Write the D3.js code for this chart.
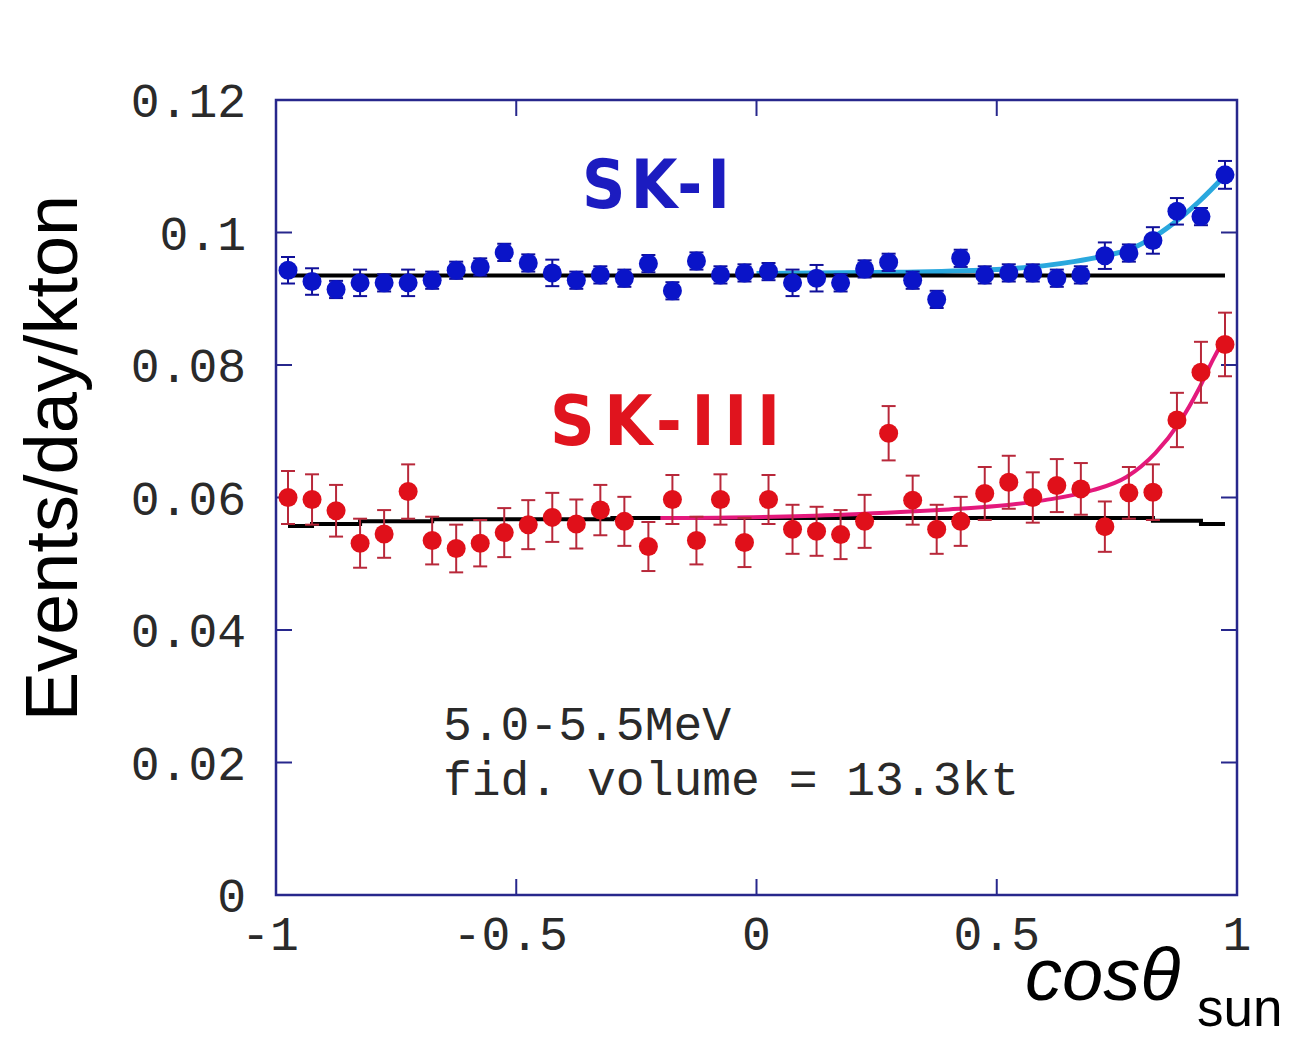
<!DOCTYPE html>
<html>
<head>
<meta charset="utf-8">
<script src="https://cdn.jsdelivr.net/npm/d3@7"></script>
<style>
  body { margin: 0; background: #fff; }
  svg { display: block; }
</style>
</head>
<body>
<div id="chart"></div>
<script>
/* SK-I / SK-III solar angle distribution, 5.0-5.5 MeV bin.
   Points read off the original figure; fits stored as sampled points. */
var cosBins = [-0.975, -0.925, -0.875, -0.825, -0.775, -0.725, -0.675, -0.625,
  -0.575, -0.525, -0.475, -0.425, -0.375, -0.325, -0.275, -0.225, -0.175, -0.125,
  -0.075, -0.025, 0.025, 0.075, 0.125, 0.175, 0.225, 0.275, 0.325, 0.375, 0.425,
  0.475, 0.525, 0.575, 0.625, 0.675, 0.725, 0.775, 0.825, 0.875, 0.925, 0.975];

var skI = [0.0943, 0.0926, 0.0914, 0.0924, 0.0924, 0.0924, 0.0928, 0.0943,
  0.0948, 0.0970, 0.0954, 0.0939, 0.0928, 0.0936, 0.0931, 0.0953, 0.0912, 0.0957,
  0.0936, 0.0939, 0.0941, 0.0924, 0.0931, 0.0924, 0.0945, 0.0955, 0.0928, 0.0899,
  0.0961, 0.0936, 0.0939, 0.0939, 0.0931, 0.0936, 0.0965, 0.0969, 0.0988, 0.1032,
  0.1024, 0.1087];
var skIErr = [0.0020, 0.0020, 0.0013, 0.0020, 0.0013, 0.0020, 0.0013, 0.0013,
  0.0013, 0.0013, 0.0013, 0.0020, 0.0013, 0.0013, 0.0013, 0.0013, 0.0013, 0.0013,
  0.0013, 0.0013, 0.0013, 0.0020, 0.0020, 0.0013, 0.0013, 0.0013, 0.0013, 0.0013,
  0.0013, 0.0013, 0.0013, 0.0013, 0.0013, 0.0013, 0.0020, 0.0013, 0.0020, 0.0020,
  0.0013, 0.0021];

var skIII = [0.0600, 0.0597, 0.0580, 0.0531, 0.0545, 0.0609, 0.0535, 0.0523,
  0.0531, 0.0547, 0.0559, 0.0570, 0.0560, 0.0581, 0.0564, 0.0526, 0.0597, 0.0535,
  0.0597, 0.0532, 0.0597, 0.0552, 0.0549, 0.0544, 0.0564, 0.0697, 0.0596, 0.0552,
  0.0564, 0.0606, 0.0623, 0.0600, 0.0618, 0.0613, 0.0556, 0.0607, 0.0608, 0.0717,
  0.0789, 0.0831];
var skIIIErr = [0.0040, 0.0038, 0.0039, 0.0037, 0.0036, 0.0041, 0.0036, 0.0036,
  0.0035, 0.0037, 0.0037, 0.0037, 0.0037, 0.0038, 0.0037, 0.0037, 0.0037, 0.0036,
  0.0038, 0.0037, 0.0037, 0.0037, 0.0037, 0.0037, 0.0040, 0.0041, 0.0037, 0.0037,
  0.0037, 0.0040, 0.0040, 0.0038, 0.0040, 0.0039, 0.0038, 0.0039, 0.0042, 0.0041,
  0.0046, 0.0048];

// flat (no-peak) expectations, black
var flatI = [[-0.975, 0.0935], [0.975, 0.0935]];
var flatIII = [[-0.975, 0.0557], [-0.925, 0.0560], [-0.825, 0.0564], [-0.675, 0.0567],
  [-0.3, 0.0569], [0.825, 0.0565], [0.925, 0.0560], [0.975, 0.0560]];

// fitted curves (signal + background), sampled from the figure
var fitI = [[0.0, 0.0938], [0.3, 0.0940], [0.5, 0.0944], [0.6, 0.0950], [0.66, 0.0956],
  [0.72, 0.0964], [0.77, 0.0973], [0.82, 0.0990], [0.87, 0.1015], [0.92, 0.1046],
  [0.975, 0.1086]];
var fitIII = [[-0.2, 0.0569], [0.1, 0.0572], [0.3, 0.0578], [0.4, 0.0582], [0.5, 0.0587],
  [0.6, 0.0596], [0.7, 0.0611], [0.77, 0.0631], [0.83, 0.0667], [0.88, 0.0713],
  [0.92, 0.0763], [0.95, 0.0808], [0.975, 0.0842]];

var xTicks = [-1, -0.5, 0, 0.5, 1];
var xTickLabels = ["-1", "-0.5", "0", "0.5", "1"];
var yTicks = [0, 0.02, 0.04, 0.06, 0.08, 0.1, 0.12];
var yTickLabels = ["0", "0.02", "0.04", "0.06", "0.08", "0.1", "0.12"];

(function () {
  var W = 1301, H = 1037;
  var L = 276, R = 1237, T = 100, B = 895;
  var svg = d3.select("#chart").append("svg")
    .attr("width", W).attr("height", H);

  var x = d3.scaleLinear().domain([-1, 1]).range([L, R]);
  var y = d3.scaleLinear().domain([0, 0.12]).range([B, T]);

  var frame = "#27278c";
  var mono = "'Liberation Mono', 'DejaVu Sans Mono', monospace";

  // ticks, pointing inward on all four sides
  var tk = 16;
  var ticks = svg.append("g").attr("stroke", frame).attr("stroke-width", 2);
  yTicks.slice(1, -1).forEach(function (v) {
    ticks.append("line").attr("x1", L).attr("x2", L + tk).attr("y1", y(v)).attr("y2", y(v));
    ticks.append("line").attr("x1", R).attr("x2", R - tk).attr("y1", y(v)).attr("y2", y(v));
  });
  xTicks.slice(1, -1).forEach(function (v) {
    ticks.append("line").attr("x1", x(v)).attr("x2", x(v)).attr("y1", T).attr("y2", T + tk);
    ticks.append("line").attr("x1", x(v)).attr("x2", x(v)).attr("y1", B).attr("y2", B - tk);
  });
  svg.append("rect").attr("x", L).attr("y", T).attr("width", R - L).attr("height", B - T)
    .attr("fill", "none").attr("stroke", frame).attr("stroke-width", 2.5);

  // tick labels
  svg.append("g").selectAll("text").data(yTicks).join("text")
    .attr("x", 246).attr("y", function (d) { return y(d); })
    .attr("dy", "0.36em").attr("text-anchor", "end")
    .attr("font-family", mono).attr("font-size", 48).attr("fill", "#2a2a2a")
    .text(function (d, i) { return yTickLabels[i]; });
  svg.append("g").selectAll("text").data(xTicks).join("text")
    .attr("x", function (d) { return x(d) - (d < 0 ? 6 : 0); }).attr("y", 950)
    .attr("text-anchor", "middle")
    .attr("font-family", mono).attr("font-size", 48).attr("fill", "#2a2a2a")
    .text(function (d, i) { return xTickLabels[i]; });

  // axis titles
  svg.append("text")
    .attr("transform", "translate(77,458) rotate(-90)")
    .attr("text-anchor", "middle")
    .attr("font-family", "'Liberation Sans', Arial, sans-serif").attr("font-size", 74)
    .attr("fill", "#000").text("Events/day/kton");
  var xt = svg.append("text")
    .attr("font-family", "'Liberation Sans', Arial, sans-serif").attr("fill", "#000");
  xt.append("tspan").attr("x", 1025).attr("y", 1000)
    .attr("font-size", 74).attr("font-style", "italic").text("cosθ");
  xt.append("tspan").attr("x", 1197).attr("y", 1026)
    .attr("font-size", 53).text("sun");

  // lines
  var line = d3.line().x(function (d) { return x(d[0]); }).y(function (d) { return y(d[1]); });
  var smooth = d3.line().curve(d3.curveMonotoneX)
    .x(function (d) { return x(d[0]); }).y(function (d) { return y(d[1]); });

  svg.append("path").datum(fitI).attr("d", smooth)
    .attr("fill", "none").attr("stroke", "#2aa8de").attr("stroke-width", 5);
  svg.append("path").datum(flatI).attr("d", line)
    .attr("fill", "none").attr("stroke", "#000").attr("stroke-width", 4);
  svg.append("path").datum(flatIII).attr("d", line.curve(d3.curveStepAfter))
    .attr("fill", "none").attr("stroke", "#000").attr("stroke-width", 4);
  svg.append("path").datum(fitIII).attr("d", smooth)
    .attr("fill", "none").attr("stroke", "#e4197c").attr("stroke-width", 4);

  // data points with error bars
  function drawSeries(vals, errs, barColor, dotColor, r) {
    var rows = vals.map(function (v, i) { return { c: cosBins[i], v: v, e: errs[i] }; });
    var g = svg.append("g");
    var eb = g.append("g").attr("stroke", barColor).attr("stroke-width", 2);
    rows.forEach(function (d) {
      var cx = x(d.c), y0 = y(d.v - d.e), y1 = y(d.v + d.e);
      eb.append("line").attr("x1", cx).attr("x2", cx).attr("y1", y0).attr("y2", y1);
      eb.append("line").attr("x1", cx - 7).attr("x2", cx + 7).attr("y1", y0).attr("y2", y0);
      eb.append("line").attr("x1", cx - 7).attr("x2", cx + 7).attr("y1", y1).attr("y2", y1);
    });
    g.append("g").selectAll("circle").data(rows).join("circle")
      .attr("cx", function (d) { return x(d.c); })
      .attr("cy", function (d) { return y(d.v); })
      .attr("r", r).attr("fill", dotColor);
  }
  drawSeries(skI, skIErr, "#10109a", "#0a14c8", 9.5);
  drawSeries(skIII, skIIIErr, "#b8283a", "#e0101a", 9.5);

  // labels
  var narrow = "'Liberation Sans Narrow', 'DejaVu Sans Condensed', sans-serif";
  svg.append("text").attr("x", 582).attr("y", 208)
    .attr("font-family", narrow).attr("font-weight", "bold").attr("font-size", 67)
    .attr("textLength", 148).attr("lengthAdjust", "spacing")
    .attr("fill", "#1c1cc0").text("SK-I");
  svg.append("text").attr("x", 550).attr("y", 445)
    .attr("font-family", narrow).attr("font-weight", "bold").attr("font-size", 69)
    .attr("textLength", 230).attr("lengthAdjust", "spacing")
    .attr("fill", "#e0141e").text("SK-III");

  var note = svg.append("g").attr("font-family", mono).attr("font-size", 48)
    .attr("fill", "#2a2a2a");
  note.append("text").attr("x", 443).attr("y", 740).text("5.0-5.5MeV");
  note.append("text").attr("x", 443).attr("y", 795).text("fid. volume = 13.3kt");
})();
</script>
</body>
</html>
